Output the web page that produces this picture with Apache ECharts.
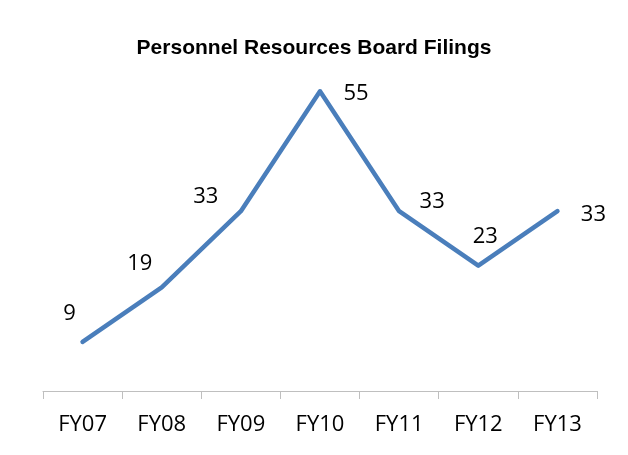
<!DOCTYPE html>
<html>
<head>
<meta charset="utf-8">
<script src="https://cdn.jsdelivr.net/npm/echarts@6/dist/echarts.min.js"></script>
<style>
  html, body { margin: 0; padding: 0; background: #fff; }
  #main { width: 628px; height: 455px; }
</style>
</head>
<body>
<div id="main"></div>
<script>
var years = ['FY07', 'FY08', 'FY09', 'FY10', 'FY11', 'FY12', 'FY13'];
var filings = [9, 19, 33, 55, 33, 23, 33];
// where each value label sits relative to its point (px)
var labelShift = [[-13, -28], [-22, -24], [-35, -14], [36, 2], [33, -9], [7, -29], [36, 4]];

var myChart = echarts.init(document.getElementById('main'));

var points = filings.map(function (v, i) {
  return { value: v, label: { offset: labelShift[i] } };
});

var option = {
  animation: false,
  title: {
    text: 'Personnel Resources Board Filings',
    left: 'center',
    top: 33,
    textStyle: {
      fontFamily: 'Liberation Sans',
      fontWeight: 'bold',
      fontSize: 21,
      color: '#000'
    }
  },
  grid: { left: 43, right: 31, top: 64, bottom: 64 },
  xAxis: {
    type: 'category',
    data: years,
    boundaryGap: true,
    axisLine: { lineStyle: { color: '#bfbfbf', width: 1 } },
    axisTick: { show: true, length: 8, inside: false, lineStyle: { color: '#bfbfbf' } },
    axisLabel: {
      margin: 23,
      fontFamily: 'Open Sans',
      fontSize: 22,
      color: '#000'
    }
  },
  yAxis: {
    type: 'value',
    min: 0,
    max: 60,
    show: false,
    splitLine: { show: false }
  },
  series: [
    {
      type: 'line',
      data: points,
      showSymbol: true,
      symbol: 'circle',
      symbolSize: 2,
      lineStyle: { color: '#4a7ebb', width: 4.5, cap: 'round', join: 'round' },
      itemStyle: { color: '#4a7ebb' },
      label: {
        show: true,
        position: 'inside',
        fontFamily: 'Open Sans',
        fontSize: 22,
        color: '#000'
      }
    }
  ]
};
myChart.setOption(option);
</script>
</body>
</html>
